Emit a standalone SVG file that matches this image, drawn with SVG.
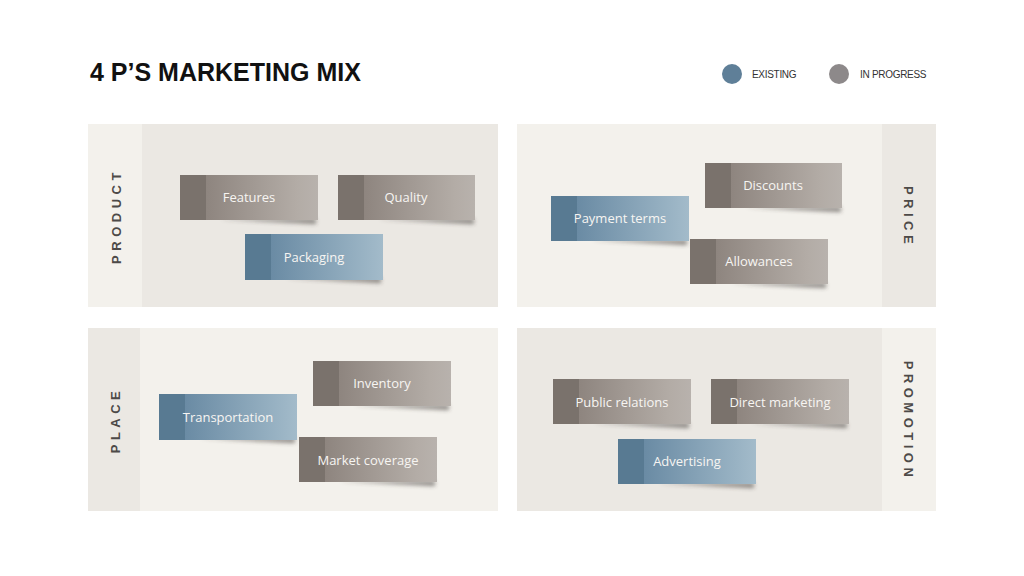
<svg xmlns="http://www.w3.org/2000/svg" width="1024" height="576" viewBox="0 0 1024 576">
<defs>
<linearGradient id="gGray" x1="0" y1="0" x2="1" y2="0">
<stop offset="0" stop-color="#7a726c"/>
<stop offset="0.19" stop-color="#7a726c"/>
<stop offset="0.19" stop-color="#8e857f"/>
<stop offset="0.85" stop-color="#b3aca6"/>
<stop offset="1" stop-color="#b8b2ad"/>
</linearGradient>
<linearGradient id="gBlue" x1="0" y1="0" x2="1" y2="0">
<stop offset="0" stop-color="#587a92"/>
<stop offset="0.19" stop-color="#587a92"/>
<stop offset="0.19" stop-color="#6a8ba4"/>
<stop offset="0.85" stop-color="#98b2c3"/>
<stop offset="1" stop-color="#a3bbca"/>
</linearGradient>
<filter id="blur" x="-20%" y="-100%" width="140%" height="300%">
<feGaussianBlur stdDeviation="2"/>
</filter>
<symbol id="shadow" overflow="visible">
<path d="M40 44 L136 44 L136 49 Q110 48 40 44 Z" fill="#3a3430" opacity="0.55" filter="url(#blur)"/>
</symbol>
</defs>
<style>
.title{font-family:"Liberation Sans",Arial,sans-serif;font-weight:bold;font-size:25px;fill:#111}
.leg{font-family:"Liberation Sans",Arial,sans-serif;font-size:10px;fill:#333;letter-spacing:-0.3px}
.side{font-family:"Liberation Sans",Arial,sans-serif;font-weight:bold;font-size:13px;fill:#4d4a48;letter-spacing:4.5px}
.card{font-family:"Open Sans","Liberation Sans",sans-serif;font-size:13px;fill:#f7f5f2}
.dark{fill:#ebe8e3}
.light{fill:#f3f1ec}
</style>
<rect width="1024" height="576" fill="#ffffff"/>
<text class="title" x="90" y="81">4 P’S MARKETING MIX</text>
<g id="legend">
<circle cx="732" cy="74" r="10" fill="#5f7f98"/>
<text class="leg" x="752" y="78">EXISTING</text>
<circle cx="839" cy="74" r="10" fill="#8d898a"/>
<text class="leg" x="860" y="78">IN PROGRESS</text>
</g>
<g id="panel-product">
<rect class="light" x="88" y="124" width="54" height="183"/>
<rect class="dark" x="142" y="124" width="356" height="183"/>
<text class="side" transform="translate(121,216) rotate(-90)" text-anchor="middle">PRODUCT</text>
</g>
<g id="panel-price">
<rect class="light" x="517" y="124" width="365" height="183"/>
<rect class="dark" x="882" y="124" width="54" height="183"/>
<text class="side" transform="translate(904,217) rotate(90)" text-anchor="middle">PRICE</text>
</g>
<g id="panel-place">
<rect class="dark" x="88" y="328" width="52" height="183"/>
<rect class="light" x="140" y="328" width="358" height="183"/>
<text class="side" transform="translate(120,420) rotate(-90)" text-anchor="middle">PLACE</text>
</g>
<g id="panel-promotion">
<rect class="dark" x="517" y="328" width="365" height="183"/>
<rect class="light" x="882" y="328" width="54" height="183"/>
<text class="side" transform="translate(904,421) rotate(90)" text-anchor="middle">PROMOTION</text>
</g>
<g id="connectors"></g>
<g id="node-features"><use href="#shadow" x="180" y="175"/><rect x="180" y="175" width="138" height="45" fill="url(#gGray)"/><text class="card" x="249" y="202" text-anchor="middle">Features</text></g>
<g id="node-quality"><use href="#shadow" x="338" y="175"/><rect x="338" y="175" width="137" height="45" fill="url(#gGray)"/><text class="card" x="406" y="202" text-anchor="middle">Quality</text></g>
<g id="node-packaging"><use href="#shadow" x="245" y="234"/><rect x="245" y="234" width="138" height="46" fill="url(#gBlue)"/><text class="card" x="314" y="262" text-anchor="middle">Packaging</text></g>
<g id="node-discounts"><use href="#shadow" x="705" y="163"/><rect x="705" y="163" width="137" height="45" fill="url(#gGray)"/><text class="card" x="773" y="190" text-anchor="middle">Discounts</text></g>
<g id="node-payment"><use href="#shadow" x="551" y="196"/><rect x="551" y="196" width="138" height="45" fill="url(#gBlue)"/><text class="card" x="620" y="223" text-anchor="middle">Payment terms</text></g>
<g id="node-allowances"><use href="#shadow" x="690" y="239"/><rect x="690" y="239" width="138" height="45" fill="url(#gGray)"/><text class="card" x="759" y="266" text-anchor="middle">Allowances</text></g>
<g id="node-inventory"><use href="#shadow" x="313" y="361"/><rect x="313" y="361" width="138" height="45" fill="url(#gGray)"/><text class="card" x="382" y="388" text-anchor="middle">Inventory</text></g>
<g id="node-transportation"><use href="#shadow" x="159" y="394"/><rect x="159" y="394" width="138" height="46" fill="url(#gBlue)"/><text class="card" x="228" y="422" text-anchor="middle">Transportation</text></g>
<g id="node-market"><use href="#shadow" x="299" y="437"/><rect x="299" y="437" width="138" height="45" fill="url(#gGray)"/><text class="card" x="368" y="465" text-anchor="middle">Market coverage</text></g>
<g id="node-public"><use href="#shadow" x="553" y="379"/><rect x="553" y="379" width="138" height="45" fill="url(#gGray)"/><text class="card" x="622" y="407" text-anchor="middle">Public relations</text></g>
<g id="node-direct"><use href="#shadow" x="711" y="379"/><rect x="711" y="379" width="138" height="45" fill="url(#gGray)"/><text class="card" x="780" y="407" text-anchor="middle">Direct marketing</text></g>
<g id="node-advertising"><use href="#shadow" x="618" y="439"/><rect x="618" y="439" width="138" height="45" fill="url(#gBlue)"/><text class="card" x="687" y="466" text-anchor="middle">Advertising</text></g>
</svg>
